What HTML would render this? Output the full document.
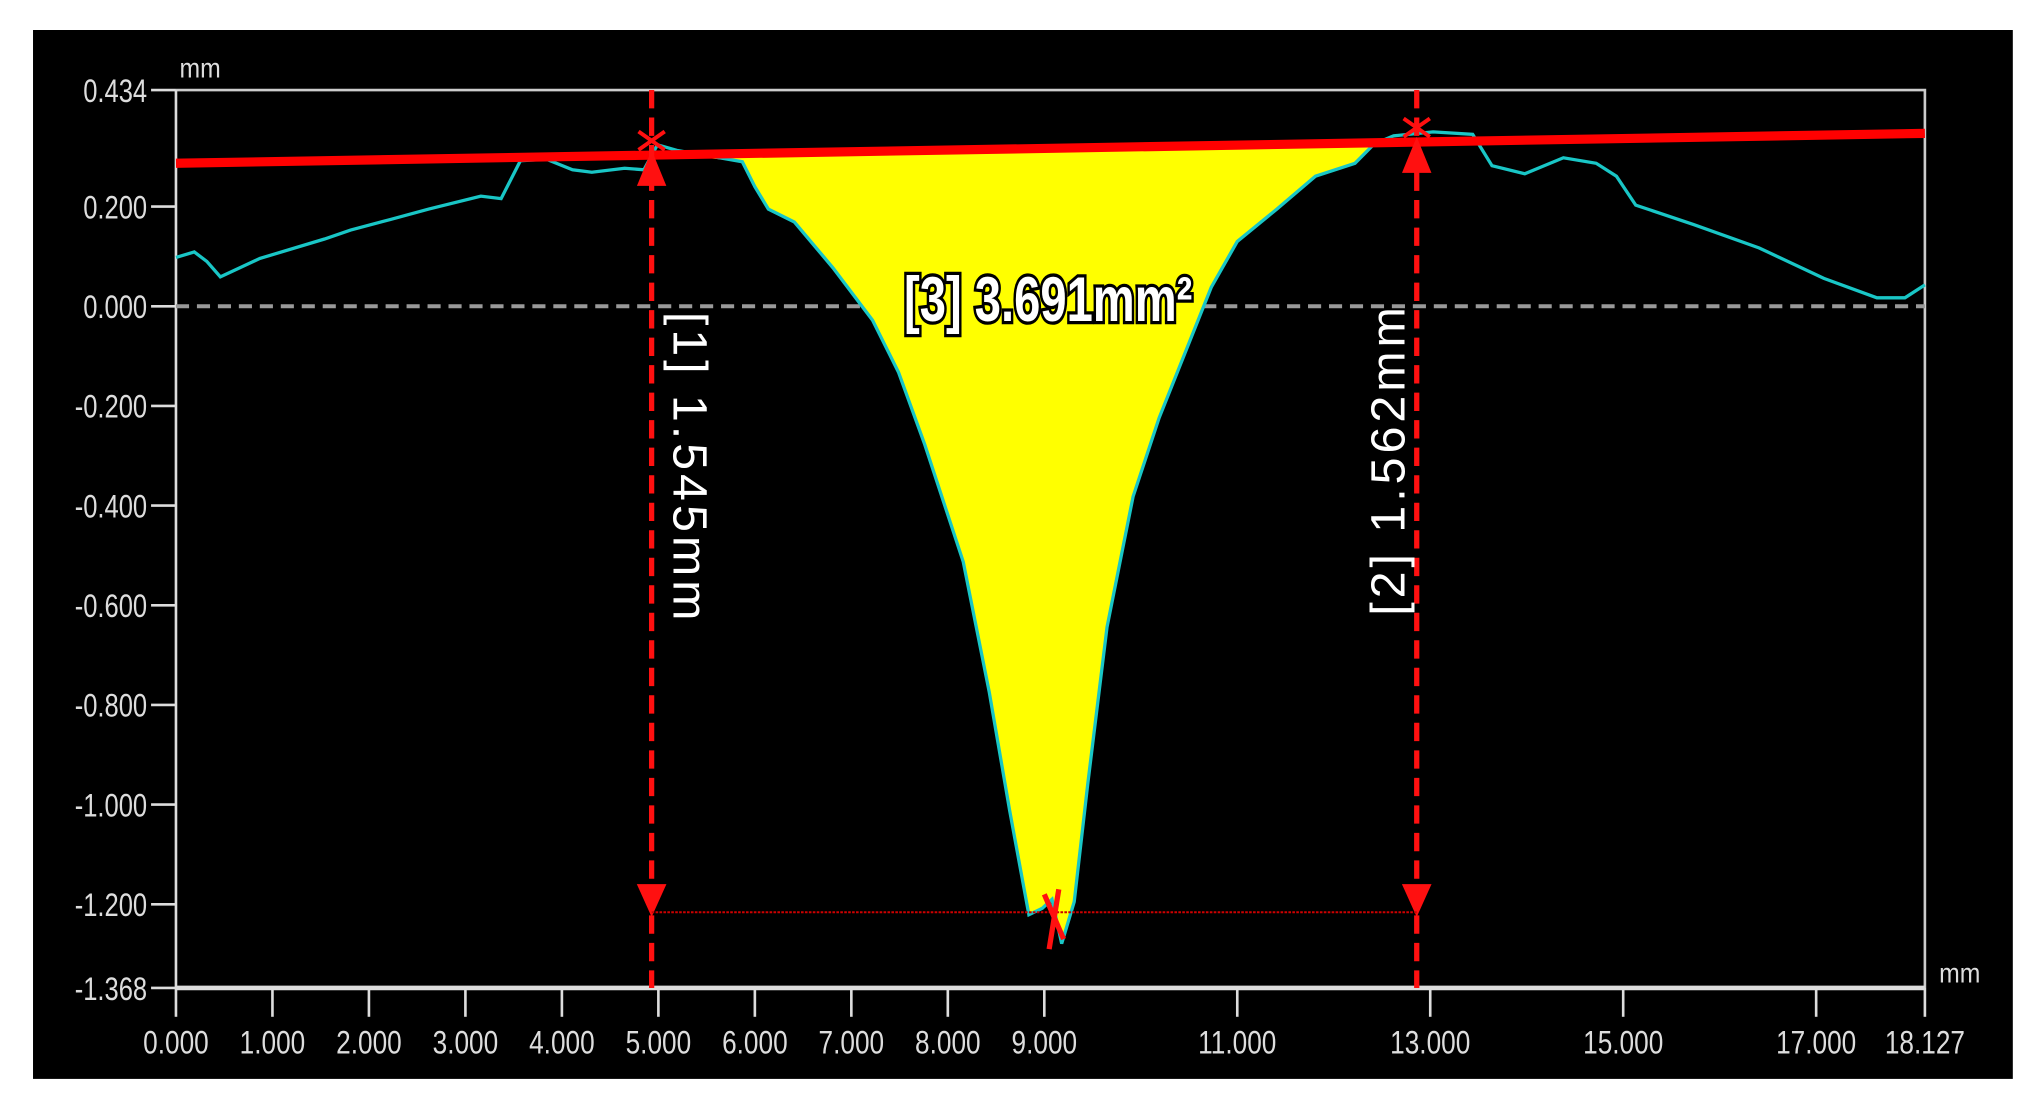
<!DOCTYPE html>
<html><head><meta charset="utf-8"><style>
html,body{margin:0;padding:0;background:#fff;width:2044px;height:1111px;overflow:hidden}
svg{display:block}
text{font-family:"Liberation Sans",sans-serif}
</style></head><body>
<svg id="chart" width="2044" height="1111" viewBox="0 0 1560 848" preserveAspectRatio="none" xmlns="http://www.w3.org/2000/svg">
<rect x="25.2" y="22.9" width="1511" height="800.6" fill="#000"/>
<g id="g"></g>
</svg>
<script>
const xTicks=[0,1,2,3,4,5,6,7,8,9,11,13,15,17,18.127];
const xTickLabels=["0.000","1.000","2.000","3.000","4.000","5.000","6.000","7.000","8.000","9.000","11.000","13.000","15.000","17.000","18.127"];
const yTicks=[0.434,0.2,0,-0.2,-0.4,-0.6,-0.8,-1.0,-1.2,-1.368];
const yTickLabels=["0.434","0.200","0.000","-0.200","-0.400","-0.600","-0.800","-1.000","-1.200","-1.368"];
const profileX=[0,0.19,0.32,0.46,0.87,1.54,1.81,2.22,2.62,3.16,3.37,3.57,3.84,4.11,4.31,4.65,4.85,4.99,5.19,5.87,6.0,6.14,6.41,6.81,7.22,7.49,7.76,8.16,8.43,8.64,8.84,8.98,9.08,9.18,9.31,9.45,9.65,9.92,10.19,10.46,10.73,11.0,11.41,11.81,12.22,12.42,12.62,13.03,13.44,13.64,13.98,14.38,14.72,14.93,15.13,15.73,16.41,17.08,17.63,17.92,18.127];
const profileY=[0.098,0.109,0.09,0.059,0.096,0.135,0.153,0.174,0.195,0.221,0.216,0.292,0.295,0.274,0.269,0.277,0.274,0.324,0.313,0.29,0.24,0.195,0.169,0.077,-0.028,-0.133,-0.277,-0.513,-0.775,-1.011,-1.221,-1.208,-1.19,-1.279,-1.195,-0.959,-0.644,-0.382,-0.224,-0.093,0.038,0.13,0.195,0.261,0.287,0.326,0.342,0.35,0.345,0.282,0.266,0.298,0.287,0.261,0.203,0.164,0.117,0.056,0.017,0.017,0.043];
const refLine=[0.287,0.347];
const cursorX=[4.93,12.86];
const cursorYBottom=-1.216;
const fillRange=[5.19,12.42];
const labels=["[1] 1.545mm","[2] 1.562mm","[3] 3.691mm²"];

const X0=134.3,X1=1469.1,Y0=68.7,Y1=754.1,XMAX=18.127,YMAX=0.434,YMIN=-1.368;
const sx=v=>X0+v/XMAX*(X1-X0);
const sy=v=>Y0+(YMAX-v)/(YMAX-YMIN)*(Y1-Y0);
const refY=x=>refLine[0]+(refLine[1]-refLine[0])*x/XMAX;
const g=document.getElementById('g');
const NS='http://www.w3.org/2000/svg';
function mk(t,a){const e=document.createElementNS(NS,t);for(const k in a)e.setAttribute(k,a[k]);g.appendChild(e);return e;}

let e=mk('path',{d:`M${X0},${Y0}H${X1}V${Y1}`,stroke:'#ccc','stroke-width':2,fill:'none'});


e=mk('line',{x1:X0,y1:Y0,x2:X0,y2:Y1,stroke:'#ddd','stroke-width':2});


e=mk('line',{x1:X0,y1:Y1,x2:X1,y2:Y1,stroke:'#ddd','stroke-width':3.5});



yTicks.forEach((v,i)=>{
 const y=sy(v);
 let t=mk('line',{x1:X0-19,y1:y,x2:X0,y2:y,stroke:'#ddd','stroke-width':2});
 
 
 let l=mk('text',{x:0,y:0,fill:'#ddd','font-size':25,'text-anchor':'end',transform:`translate(${X0-22},${y+9}) scale(0.78,1)`});
 l.textContent=yTickLabels[i];
 
 
});
xTicks.forEach((v,i)=>{
 const x=sx(v);
 let t=mk('line',{x1:x,y1:Y1,x2:x,y2:Y1+22,stroke:'#ddd','stroke-width':2});
 
 
 let l=mk('text',{x:0,y:0,fill:'#ddd','font-size':25,'text-anchor':'middle',transform:`translate(${x},${Y1+50}) scale(0.8,1)`});
 l.textContent=xTickLabels[i];
 
 
});
e=mk('text',{x:0,y:0,fill:'#ddd','font-size':21,transform:`translate(137,59) scale(0.9,1)`});e.textContent='mm';


e=mk('text',{x:0,y:0,fill:'#ddd','font-size':21,transform:`translate(1480,750) scale(0.9,1)`});e.textContent='mm';



e=mk('line',{x1:X0,y1:sy(0),x2:X1,y2:sy(0),stroke:'#999','stroke-width':3,'stroke-dasharray':'10 6'});



let pts=[];
profileX.forEach((x,i)=>{if(x>=fillRange[0]&&x<=fillRange[1])pts.push(sx(x)+','+sy(Math.min(profileY[i],refY(x))));});
pts.push(sx(fillRange[1])+','+sy(refY(fillRange[1])));
pts.push(sx(fillRange[0])+','+sy(refY(fillRange[0])));
e=mk('polygon',{points:pts.join(' '),fill:'#ffff00'});



e=mk('polyline',{points:profileX.map((x,i)=>sx(x)+','+sy(profileY[i])).join(' '),fill:'none',stroke:'#19c6c6','stroke-width':2.5});



e=mk('line',{x1:sx(0),y1:sy(refLine[0]),x2:sx(XMAX),y2:sy(refLine[1]),stroke:'#ff0000','stroke-width':7});



cursorX.forEach((cx,i)=>{
 const x=sx(cx);
 let c=mk('line',{x1:x,y1:Y0,x2:x,y2:Y1,stroke:'#ff1010','stroke-width':4,'stroke-dasharray':'14 7'});
 
 
 const yt=sy(refY(cx)),yb=sy(cursorYBottom);
 let a=mk('path',{d:`M${x-9},${yt+22}L${x},${yt}L${x+9},${yt+22}Z M${x-10},${yt-18}L${x+10},${yt-4} M${x+10},${yt-18}L${x-10},${yt-4} M${x-9},${yb-20}L${x},${yb}L${x+9},${yb-20}Z`,fill:'#ff1010',stroke:'#ff1010','stroke-width':3});
 
 
});
e=mk('line',{x1:sx(cursorX[0]),y1:sy(cursorYBottom),x2:sx(cursorX[1]),y2:sy(cursorYBottom),stroke:'#cc0000','stroke-width':1.5,'stroke-dasharray':'2 1'});


e=mk('path',{d:`M${sx(9.0)},${sy(-1.18)}L${sx(9.2)},${sy(-1.27)} M${sx(9.15)},${sy(-1.17)}L${sx(9.05)},${sy(-1.29)}`,stroke:'#ff1010','stroke-width':4,fill:'none'});



e=mk('text',{x:0,y:0,fill:'#fff','font-size':37,'letter-spacing':3,transform:`translate(514,238) rotate(90)`});e.textContent=labels[0];


e=mk('text',{x:0,y:0,fill:'#fff','font-size':37,'letter-spacing':3,transform:`translate(1072,470) rotate(-90)`});e.textContent=labels[1];


e=mk('text',{x:0,y:0,fill:'#fff',stroke:'#000','stroke-width':5,'paint-order':'stroke','font-size':48,'font-weight':'bold','text-anchor':'middle',transform:`translate(800,245) scale(0.75,1)`});e.textContent=labels[2];


</script>
</body></html>
